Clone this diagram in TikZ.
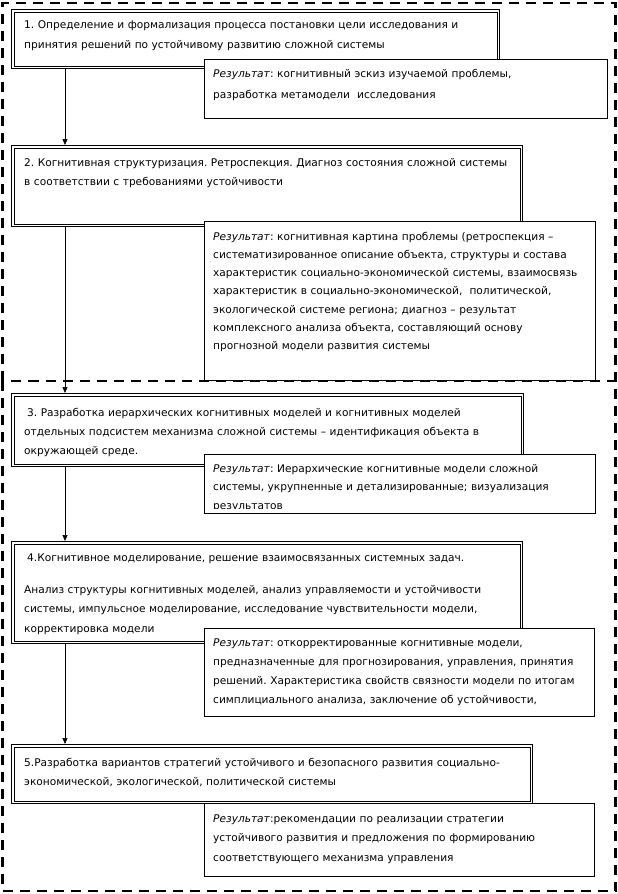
\documentclass[tikz,border=0pt]{standalone}
\usepackage{fontspec}
\setmainfont{DejaVu Sans}
\usetikzlibrary{arrows.meta}
\frenchspacing
\begin{document}
\begin{tikzpicture}[x=1pt,y=-1pt,
	frame/.style={line width=2.8pt,dash pattern=on 10pt off 7pt},
	stepbox/.style={draw,line width=1.3pt,anchor=north west,inner sep=0pt,
		path picture={\draw[line width=0.6pt] ([shift={(2.6pt,2.6pt)}]path picture bounding box.south west) rectangle ([shift={(-2.6pt,-2.6pt)}]path picture bounding box.north east);}},
	resbox/.style={draw,fill=white,line width=0.7pt,anchor=north west,inner sep=0pt},
	steptext/.style={anchor=north west,inner sep=0pt,text width=500pt,align=left,font=\fontsize{10.6}{19.5}\selectfont},
	restext/.style={anchor=north west,inner sep=0pt,text width=385pt,align=left,font=\fontsize{10.6}{19}\selectfont},
	arr/.style={line width=0.6pt,-{Stealth[length=6pt,width=5pt,inset=0pt]}}]
	\useasboundingbox (0,0) rectangle (618,894);
	% steps
	\node[stepbox,minimum width=488,minimum height=59] (s1) at (11,9) {};
	\node[stepbox,minimum width=511,minimum height=81] (s2) at (11,145) {};
	\node[stepbox,minimum width=512,minimum height=73] (s3) at (11,393) {};
	\node[stepbox,minimum width=511,minimum height=102] (s4) at (11,541) {};
	\node[stepbox,minimum width=521,minimum height=59] (s5) at (11,744) {};
	\node[steptext] (t1) at (24,14.7) {\strut1. Определение и формализация процесса постановки цели исследования и\\
		принятия решений по устойчивому развитию сложной системы};
	\node[steptext] (t2) at (24,152.4) {\strut2. Когнитивная структуризация. Ретроспекция. Диагноз состояния сложной системы\\
		в соответствии с требованиями устойчивости};
	\node[steptext,font=\fontsize{10.6}{19.3}\selectfont] (t3) at (24,402.5) {\strut\hspace{3pt}3. Разработка иерархических когнитивных моделей и когнитивных моделей\\
		отдельных подсистем механизма сложной системы – идентификация объекта в\\
		окружающей среде.};
	\node[steptext] (t4) at (24,547.4) {\strut\hspace{3pt}4.Когнитивное моделирование, решение взаимосвязанных системных задач.\\[12.5pt]
		Анализ структуры когнитивных моделей, анализ управляемости и устойчивости\\
		системы, импульсное моделирование, исследование чувствительности модели,\\
		корректировка модели};
	\node[steptext] (t5) at (24,752.4) {\strut5.Разработка вариантов стратегий устойчивого и безопасного развития социально-\\
		экономической, экологической, политической системы};
	% results
	\node[resbox,minimum width=403,minimum height=59] (r1) at (204,59) {};
	\node[restext,font=\fontsize{10.6}{20.5}\selectfont] (rt1) at (213,63) {\strut\textit{Результат}: когнитивный эскиз изучаемой проблемы,\\
		разработка метамодели \ исследования};
	\node[resbox,minimum width=391,minimum height=159] (r2) at (204,221) {};
	\node[restext,font=\fontsize{10.6}{18.2}\selectfont] (rt2) at (213,227.3) {\strut\textit{Результат}: когнитивная картина проблемы (ретроспекция –\\
		систематизированное описание объекта, структуры и состава\\
		характеристик социально-экономической системы, взаимосвязь\\
		характеристик в социально-экономической, \ политической,\\
		экологической системе региона; диагноз – результат\\
		комплексного анализа объекта, составляющий основу\\
		прогнозной модели развития системы};
	\node[resbox,minimum width=391,minimum height=59] (r3) at (204,454) {};
	\begin{scope}
		\clip ([yshift=5pt]r3.south west) rectangle (r3.north east);
		\node[restext,font=\fontsize{10.6}{18.8}\selectfont] (rt3) at (213,458.8) {\strut\textit{Результат}: Иерархические когнитивные модели сложной\\
			системы, укрупненные и детализированные; визуализация\\
			результатов};
	\end{scope}
	\node[resbox,minimum width=390,minimum height=88] (r4) at (204,628) {};
	\node[restext] (rt4) at (213,632.7) {\strut\textit{Результат}: откорректированные когнитивные модели,\\
		предназначенные для прогнозирования, управления, принятия\\
		решений. Характеристика свойств связности модели по итогам\\
		симплициального анализа, заключение об устойчивости,};
	\node[resbox,minimum width=390,minimum height=73] (r5) at (204,803) {};
	\node[restext,font=\fontsize{10.6}{19.5}\selectfont] (rt5) at (213,808.4) {\strut\textit{Результат}:рекомендации по реализации стратегии\\
		устойчивого развития и предложения по формированию\\
		соответствующего механизма управления};
	% arrows
	\draw[arr] ([xshift=54pt]s1.south west) -- ([xshift=54pt]s2.north west);
	\draw[arr] ([xshift=54pt]s2.south west) -- ([xshift=54pt]s3.north west);
	\draw[arr] ([xshift=54pt]s3.south west) -- ([xshift=54pt]s4.north west);
	\draw[arr] ([xshift=54pt]s4.south west) -- ([xshift=54pt]s5.north west);
	% dashed frames
	\draw[frame] (2.5,381) -- (2.5,3) -- (615.5,3) -- (615.5,381);
	\draw[frame] (2.5,381) rectangle (615.5,891);
\end{tikzpicture}
\end{document}
